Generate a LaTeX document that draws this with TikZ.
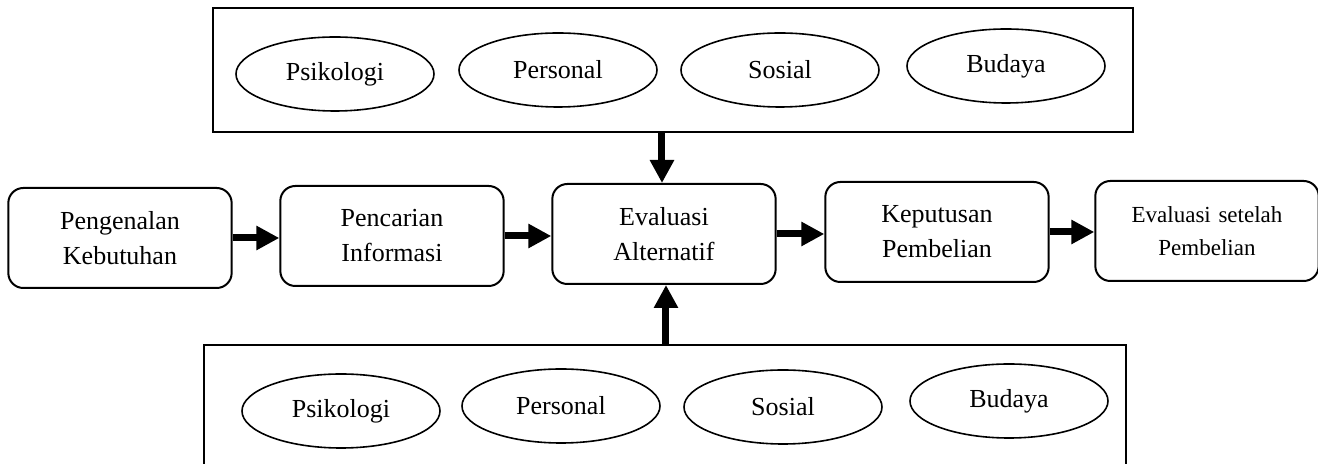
\documentclass[tikz,border=0pt]{standalone}
\usepackage{fontspec}
\setmainfont{Liberation Serif}
\usepackage{tikz}
\usetikzlibrary{shapes.geometric, arrows.meta}

\begin{document}
\begin{tikzpicture}
    % Define styles for blocks and arrows
    \tikzstyle{stageblock} = [rectangle, rounded corners=7.5pt, draw, line width=1pt, text centered, text width=105pt, minimum width=109pt, minimum height=50pt, font=\fontsize{13}{17.5}\selectfont]
    \tikzstyle{factorbox} = [rectangle, draw, line width=1pt, inner sep=0pt]
    \tikzstyle{factor} = [ellipse, draw, line width=0.8pt, inner sep=0pt, minimum width=99pt, minimum height=37pt, font=\fontsize{13}{15}\selectfont]
    \tikzstyle{arrow} = [line width=3.5pt, -{Triangle[width=11.5pt,length=11.5pt]}]

    % Frame of the picture (the lower box runs off the bottom)
    \clip (-332pt,-115pt) rectangle (327pt,117pt);

    % Nodes
    \node (evaluasi) [stageblock] {Evaluasi\\Alternatif};
    \node (pencarian) [stageblock, left of=evaluasi, node distance=136pt, yshift=-1pt] {Pencarian\\Informasi};
    \node (pengenalan) [stageblock, left of=pencarian, node distance=136pt, yshift=-1pt] {Pengenalan\\Kebutuhan};
    \node (keputusan) [stageblock, right of=evaluasi, node distance=136.5pt, yshift=1pt] {Keputusan\\Pembelian};
    \node (setelah) [stageblock, right of=keputusan, node distance=135pt, yshift=0.5pt, font=\fontsize{11.5}{16.5}\selectfont] {Evaluasi setelah\\Pembelian};

    \node (faktoratas) [factorbox, minimum width=460pt, minimum height=62pt] at (4.5pt,82pt) {};
    \node (psikologiatas) [factor] at (-164.5pt,80pt) {Psikologi};
    \node (personalatas) [factor] at (-53pt,82pt) {Personal};
    \node (sosialatas) [factor] at (58pt,82pt) {Sosial};
    \node (budayaatas) [factor] at (171pt,84pt) {Budaya};

    \node (faktorbawah) [factorbox, minimum width=461pt, minimum height=70pt] at (0.5pt,-90.5pt) {};
    \node (psikologibawah) [factor] at (-161.5pt,-88.5pt) {Psikologi};
    \node (personalbawah) [factor] at (-51.5pt,-86pt) {Personal};
    \node (sosialbawah) [factor] at (59.5pt,-86.5pt) {Sosial};
    \node (budayabawah) [factor] at (172.5pt,-83.5pt) {Budaya};

    % Arrows
    \draw [arrow] (pengenalan.east) -- (pencarian.west |- pengenalan.east);
    \draw [arrow] (pencarian.east) -- (evaluasi.west |- pencarian.east);
    \draw [arrow] (evaluasi.east) -- (keputusan.west |- evaluasi.east);
    \draw [arrow] (keputusan.east) -- (setelah.west |- keputusan.east);
    \draw [arrow] ([xshift=-1pt]evaluasi.north |- faktoratas.south) -- ([xshift=-1pt]evaluasi.north);
    \draw [arrow] ([xshift=1pt]evaluasi.south |- faktorbawah.north) -- ([xshift=1pt]evaluasi.south);

\end{tikzpicture}
\end{document}
